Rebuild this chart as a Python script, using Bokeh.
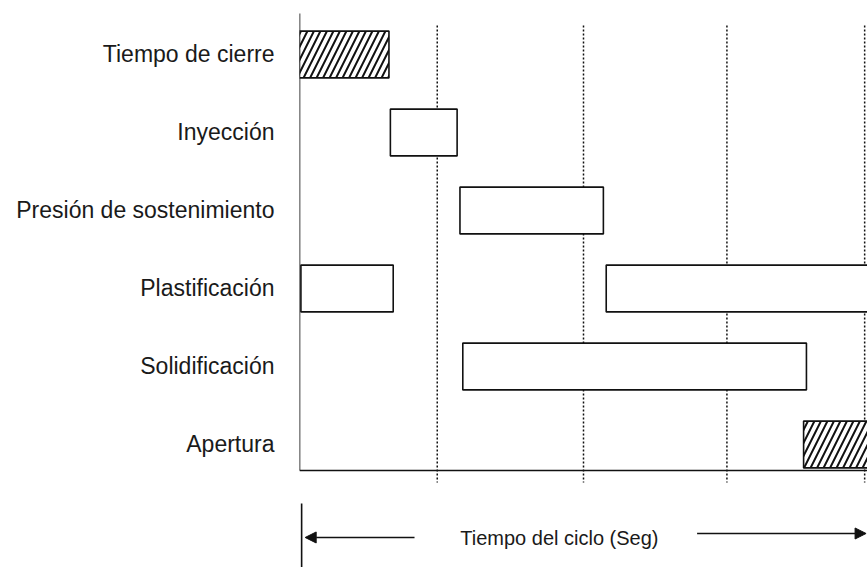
from bokeh.plotting import figure
from bokeh.models import Range1d, FixedTicker, Label, Arrow, NormalHead, ColumnDataSource
from bokeh.embed import file_html
from bokeh.resources import INLINE

# ---- data ----
categories = ["Apertura", "Solidificación", "Plastificación",
              "Presión de sostenimiento", "Inyección", "Tiempo de cierre"]
seg_task = ["Tiempo de cierre", "Inyección", "Presión de sostenimiento",
            "Plastificación", "Plastificación", "Solidificación", "Apertura"]
seg_start = [0.0, 0.64, 1.13, 0.01, 2.16, 1.15, 3.55]
seg_end = [0.63, 1.11, 2.14, 0.66, 4.3, 3.57, 4.3]
seg_hatched = [True, False, False, False, False, False, True]
grid_times = [0.97, 2.0, 3.01, 3.98]
axis_title = "Tiempo del ciclo (Seg)"

FONT = "Liberation Sans"
BAR_H = 0.6

row = {c: i for i, c in enumerate(categories)}
ypos = [row[t] for t in seg_task]

p = figure(width=867, height=567, output_backend="svg", toolbar_location=None,
           x_range=Range1d(0, 4.0), y_range=Range1d(-1.577, 5.692),
           min_border_left=299, min_border_right=0, min_border_top=0, min_border_bottom=0)
p.outline_line_color = None
p.xgrid.visible = False
p.ygrid.visible = False
p.xaxis.visible = False
p.background_fill_color = "white"
p.border_fill_color = "white"

yax = p.yaxis[0]
yax.ticker = FixedTicker(ticks=list(range(len(categories))))
yax.major_label_overrides = {i: c for i, c in enumerate(categories)}
yax.axis_line_color = None
yax.major_tick_line_color = None
yax.minor_tick_line_color = None
yax.major_tick_in = 0
yax.major_tick_out = 0
yax.major_label_standoff = 25
yax.major_label_text_font = FONT
yax.major_label_text_font_size = "23px"
yax.major_label_text_color = "#1a1a1a"

# dotted vertical guide lines
p.segment(x0=grid_times, x1=grid_times, y0=[5.372] * len(grid_times), y1=[-0.487] * len(grid_times),
          line_color="#111111", line_width=1.5, line_dash="2 2")

# axis lines
p.segment(x0=[0], y0=[5.526], x1=[0], y1=[-0.333], line_color="#111111", line_width=1.6)
p.segment(x0=[0], y0=[-0.333], x1=[4.0], y1=[-0.333], line_color="#111111", line_width=1.6)

plain = [i for i, h in enumerate(seg_hatched) if not h]
hatch = [i for i, h in enumerate(seg_hatched) if h]

def src(idx):
    return ColumnDataSource(dict(
        left=[seg_start[i] for i in idx], right=[seg_end[i] for i in idx],
        bottom=[ypos[i] - BAR_H / 2 for i in idx], top=[ypos[i] + BAR_H / 2 for i in idx]))

p.quad(left="left", right="right", bottom="bottom", top="top", source=src(plain),
       fill_color="white", line_color="#111111", line_width=1.6)
p.quad(left="left", right="right", bottom="bottom", top="top", source=src(hatch),
       fill_color="white", line_color="#111111", line_width=1.6,
       hatch_pattern="/", hatch_color="#111111", hatch_scale=13, hatch_weight=2.0)

# bottom annotation: cycle time
p.segment(x0=[0.015], y0=[-0.756], x1=[0.015], y1=[-1.577], line_color="#111111", line_width=1.6)
p.add_layout(Arrow(x_start=0.81, y_start=-1.192, x_end=0.04, y_end=-1.192,
                   line_color="#111111", line_width=1.5,
                   end=NormalHead(size=11, fill_color="#111111", line_color="#111111")))
p.add_layout(Arrow(x_start=2.80, y_start=-1.141, x_end=3.99, y_end=-1.141,
                   line_color="#111111", line_width=1.5,
                   end=NormalHead(size=11, fill_color="#111111", line_color="#111111")))
p.add_layout(Label(x=1.83, y=-1.205, text=axis_title, text_align="center",
                   text_baseline="middle", text_font=FONT, text_font_size="20px",
                   text_color="#1a1a1a"))

open("out.html", "w").write(file_html(p, INLINE))
